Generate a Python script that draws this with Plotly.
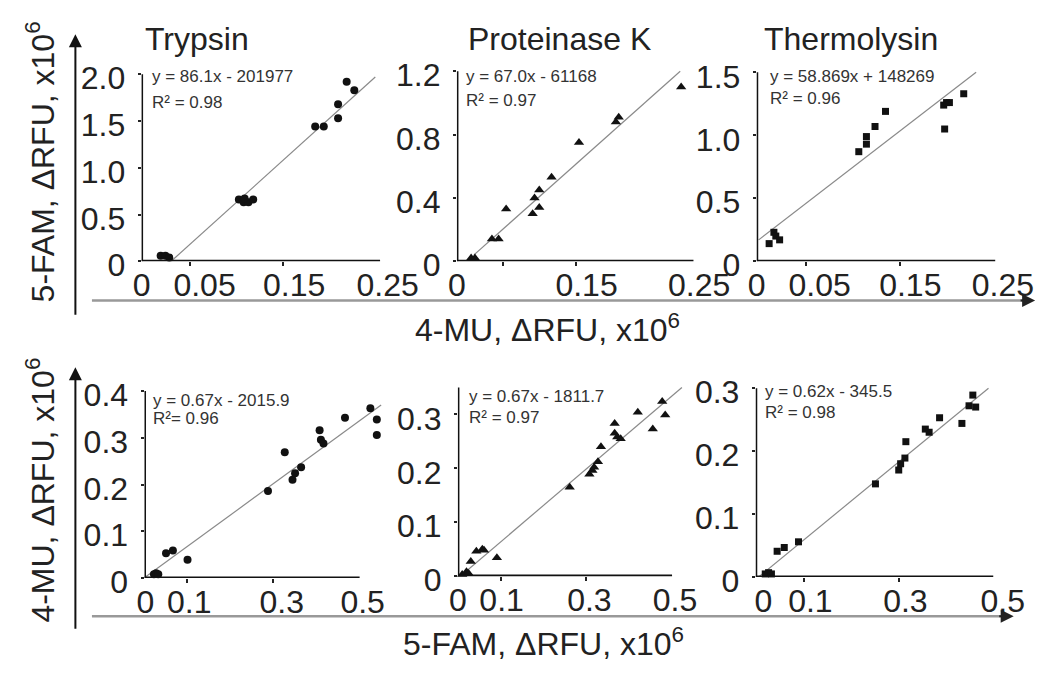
import plotly.graph_objects as go

W, H = 1050, 676
FONT = "Liberation Sans, Arial, sans-serif"

# ---------------- data (x10^6 RFU) ----------------
titles = ["Trypsin", "Proteinase K", "Thermolysin"]

# Row 1: x = 4-MU, y = 5-FAM
tryp_x = [0.020, 0.025, 0.029, 0.102, 0.107, 0.112, 0.117, 0.108, 0.182, 0.191, 0.206, 0.206, 0.215, 0.223]
tryp_y = [0.06, 0.06, 0.04, 0.66, 0.63, 0.63, 0.66, 0.67, 1.44, 1.44, 1.68, 1.53, 1.92, 1.83]
tryp_fit_x = [0.031, 0.245]
tryp_fit_y = [0.0, 1.97]

prot_x = [0.015, 0.019, 0.037, 0.044, 0.052, 0.080, 0.082, 0.087, 0.087, 0.100, 0.129, 0.168, 0.171, 0.237]
prot_y = [0.02, 0.02, 0.14, 0.14, 0.33, 0.30, 0.40, 0.45, 0.34, 0.53, 0.75, 0.88, 0.91, 1.10]
prot_fit_x = [0.018, 0.236]
prot_fit_y = [0.04, 1.20]

therm_x = [0.013, 0.018, 0.020, 0.024, 0.107, 0.115, 0.115, 0.124, 0.135, 0.196, 0.199, 0.202, 0.197, 0.217]
therm_y = [0.14, 0.23, 0.20, 0.17, 0.87, 0.93, 0.99, 1.07, 1.19, 1.24, 1.26, 1.26, 1.05, 1.33]
therm_fit_x = [0.002, 0.230]
therm_fit_y = [0.17, 1.50]

# Row 2: x = 5-FAM, y = 4-MU
tryp2_x = [0.022, 0.027, 0.032, 0.050, 0.066, 0.100, 0.287, 0.326, 0.344, 0.350, 0.364, 0.407, 0.410, 0.416, 0.466, 0.525, 0.540, 0.540]
tryp2_y = [0.008, 0.010, 0.008, 0.053, 0.059, 0.039, 0.186, 0.269, 0.210, 0.224, 0.237, 0.316, 0.296, 0.288, 0.343, 0.363, 0.339, 0.306]
tryp2_fit_x = [0.002, 0.550]
tryp2_fit_y = [0.002, 0.370]

prot2_x = [0.010, 0.020, 0.025, 0.030, 0.043, 0.057, 0.061, 0.091, 0.261, 0.307, 0.314, 0.318, 0.327, 0.334, 0.366, 0.366, 0.372, 0.380, 0.420, 0.455, 0.477, 0.484]
prot2_y = [0.003, 0.008, 0.005, 0.027, 0.046, 0.050, 0.048, 0.034, 0.165, 0.189, 0.196, 0.202, 0.212, 0.240, 0.283, 0.265, 0.258, 0.255, 0.304, 0.273, 0.324, 0.299]
prot2_fit_x = [0.009, 0.523]
prot2_fit_y = [0.002, 0.350]

therm2_x = [0.020, 0.027, 0.033, 0.045, 0.060, 0.090, 0.252, 0.301, 0.305, 0.314, 0.316, 0.357, 0.365, 0.387, 0.434, 0.449, 0.457, 0.463]
therm2_y = [0.005, 0.007, 0.005, 0.041, 0.047, 0.056, 0.148, 0.170, 0.180, 0.189, 0.215, 0.235, 0.230, 0.253, 0.244, 0.272, 0.289, 0.270]
therm2_fit_x = [0.006, 0.490]
therm2_fit_y = [0.000, 0.300]

equations = ["y = 86.1x - 201977", "y = 67.0x - 61168", "y = 58.869x + 148269",
             "y = 0.67x - 2015.9", "y = 0.67x - 1811.7", "y = 0.62x - 345.5"]
r2_labels = ["R² = 0.98", "R² = 0.97", "R² = 0.96", "R²= 0.96", "R² = 0.97", "R² = 0.98"]

# tick labels
xtick_text = [["0", "0.05", "0.15", "0.25"], ["0", "0.15", "0.25"], ["0", "0.05", "0.15", "0.25"],
              ["0", "0.1", "0.3", "0.5"], ["0", "0.1", "0.3", "0.5"], ["0", "0.1", "0.3", "0.5"]]
xtick_vals = [[0.0, 0.066, 0.160, 0.258], [0.0, 0.137, 0.256], [0.0, 0.066, 0.161, 0.258],
              [0.002, 0.104, 0.319, 0.507], [0.0, 0.102, 0.307, 0.507], [0.016, 0.115, 0.315, 0.520]]
xminor_vals = [[0.051, 0.148], [0.049, 0.126], [0.052, 0.150],
               [0.0995, 0.299], [0.10, 0.30], [0.102, 0.301]]
ytick_vals = [[0, 0.5, 1.0, 1.5, 2.0], [0, 0.4, 0.8, 1.2], [0, 0.5, 1.0, 1.5],
              [0, 0.1, 0.2, 0.3, 0.4], [0, 0.1, 0.2, 0.3], [0, 0.1, 0.2, 0.3]]
ytick_text = [["0", "0.5", "1.0", "1.5", "2.0"], ["0", "0.4", "0.8", "1.2"], ["0", "0.5", "1.0", "1.5"],
              ["0", "0.1", "0.2", "0.3", "0.4"], ["0", "0.1", "0.2", "0.3"], ["0", "0.1", "0.2", "0.3"]]

series = [(tryp_x, tryp_y, tryp_fit_x, tryp_fit_y),
          (prot_x, prot_y, prot_fit_x, prot_fit_y),
          (therm_x, therm_y, therm_fit_x, therm_fit_y),
          (tryp2_x, tryp2_y, tryp2_fit_x, tryp2_fit_y),
          (prot2_x, prot2_y, prot2_fit_x, prot2_fit_y),
          (therm2_x, therm2_y, therm2_fit_x, therm2_fit_y)]

# ---------------- geometry (pixels) ----------------
# x0px, px per x unit, y0px, px per y unit, x range max, y range max, x axis end, y axis end
geo = [(128, 980, 256, 98, 0.27, 2.05, 0.25, 2.0),
       (452, 972, 256, 166, 0.27, 1.25, 0.25, 1.2),
       (760, 980, 256, 132, 0.27, 1.55, 0.25, 1.5),
       (131, 442, 588, 490, 0.56, 0.42, 0.5, 0.4),
       (453, 440, 586, 565, 0.56, 0.36, 0.5, 0.35),
       (759, 488, 587, 660, 0.56, 0.31, 0.5, 0.3)]
symbols = ["circle", "triangle-up", "square"] * 2
msize = [8, 9, 7] * 2
eq_pos = [(137, 62, 90), (459, 62, 87), (772, 62, 85),
          (138, 402, 421), (462, 398, 420), (766, 393, 415)]

fig = go.Figure()
layout = dict(width=W, height=H, margin=dict(l=0, r=0, t=0, b=0),
              paper_bgcolor="white", plot_bgcolor="rgba(0,0,0,0)",
              showlegend=False, font=dict(family=FONT, color="#222"))
shapes, annotations = [], []

for i, ((sx, sy, fx, fy), g) in enumerate(zip(series, geo)):
    x0, ppx, y0, ppy, xr, yr, xend, yend = g
    xa = "x" if i == 0 else f"x{i+1}"
    ya = "y" if i == 0 else f"y{i+1}"
    fig.add_trace(go.Scatter(x=fx, y=fy, mode="lines", xaxis=xa, yaxis=ya,
                             line=dict(color="#8a8a8a", width=1.2), hoverinfo="skip"))
    fig.add_trace(go.Scatter(x=sx, y=sy, mode="markers", xaxis=xa, yaxis=ya, cliponaxis=False,
                             marker=dict(symbol=symbols[i], size=msize[i], color="#111",
                                         line=dict(width=0))))
    xd = [x0 / W, (x0 + xr * ppx) / W]
    yd = [1 - y0 / H, 1 - (y0 - yr * ppy) / H]
    key = "" if i == 0 else str(i + 1)
    layout["xaxis" + key] = dict(domain=xd, range=[0, xr], anchor=ya, showline=False,
                                 showgrid=False, zeroline=False, tickmode="array",
                                 tickvals=xtick_vals[i], ticktext=xtick_text[i], ticks="",
                                 tickfont=dict(size=32, color="#222"), ticklabelstandoff=2,
                                 minor=dict(tickmode="array", tickvals=xminor_vals[i],
                                            ticks="outside", ticklen=4, tickwidth=2,
                                            tickcolor="#222", showgrid=False))
    layout["yaxis" + key] = dict(domain=yd, range=[0, yr], anchor=xa, showline=False,
                                 showgrid=False, zeroline=False, tickmode="array",
                                 tickvals=ytick_vals[i], ticktext=ytick_text[i], ticks="outside",
                                 ticklen=3, tickwidth=2, tickcolor="#222",
                                 tickfont=dict(size=32, color="#222"), ticklabelshift=4,
                                 ticklabelstandoff=6)
    # axis lines
    shapes.append(dict(type="line", xref=xa, yref=ya, x0=0, x1=xend, y0=0, y1=0,
                       line=dict(color="#111", width=3)))
    shapes.append(dict(type="line", xref=xa, yref=ya, x0=0, x1=0, y0=0, y1=yend,
                       line=dict(color="#111", width=3)))
    ex, ey1, ey2 = eq_pos[i]
    annotations.append(dict(text=equations[i], xref="paper", yref="paper", x=ex / W, y=1 - ey1 / H,
                            xanchor="left", yanchor="middle", showarrow=False,
                            font=dict(size=17, color="#333")))
    annotations.append(dict(text=r2_labels[i], xref="paper", yref="paper", x=ex / W, y=1 - ey2 / H,
                            xanchor="left", yanchor="middle", showarrow=False,
                            font=dict(size=17, color="#333")))

# titles
for t, cx in zip(titles, [185, 557, 857]):
    annotations.append(dict(text=t, xref="paper", yref="paper", x=cx / W, y=1 - 23 / H,
                            xanchor="center", yanchor="middle", showarrow=False,
                            font=dict(size=32, color="#222")))

# big axis titles
annotations += [
    dict(text="4-MU, ΔRFU, x10<sup>6</sup>", xref="paper", yref="paper", x=545 / W, y=1 - 326 / H,
         xanchor="center", yanchor="middle", showarrow=False, font=dict(size=32, color="#222")),
    dict(text="5-FAM, ΔRFU, x10<sup>6</sup>", xref="paper", yref="paper", x=541 / W, y=1 - 655 / H,
         xanchor="center", yanchor="middle", showarrow=False, font=dict(size=32, color="#222")),
    dict(text="5-FAM, ΔRFU, x10<sup>6</sup>", xref="paper", yref="paper", x=24 / W, y=1 - 152 / H,
         xanchor="center", yanchor="middle", textangle=-90, showarrow=False,
         font=dict(size=32, color="#222")),
    dict(text="4-MU, ΔRFU, x10<sup>6</sup>", xref="paper", yref="paper", x=24 / W, y=1 - 496 / H,
         xanchor="center", yanchor="middle", textangle=-90, showarrow=False,
         font=dict(size=32, color="#222")),
]

# big arrows
annotations += [
    dict(text="", xref="paper", yref="paper", x=60 / W, y=1 - 18 / H, ax=0, ay=282,
         showarrow=True, arrowhead=2, arrowsize=1.3, arrowwidth=2, arrowcolor="#111"),
    dict(text="", xref="paper", yref="paper", x=60 / W, y=1 - 367 / H, ax=0, ay=263,
         showarrow=True, arrowhead=2, arrowsize=1.3, arrowwidth=2, arrowcolor="#111"),
    dict(text="", xref="paper", yref="paper", x=1046 / W, y=1 - 297 / H, ax=-16, ay=0,
         showarrow=True, arrowhead=2, arrowsize=1.3, arrowwidth=2, arrowcolor="#222"),
    dict(text="", xref="paper", yref="paper", x=1024 / W, y=1 - 628 / H, ax=-16, ay=0,
         showarrow=True, arrowhead=2, arrowsize=1.3, arrowwidth=2, arrowcolor="#222"),
]
shapes += [
    dict(type="line", xref="paper", yref="paper", x0=77 / W, x1=1036 / W, y0=1 - 297 / H, y1=1 - 297 / H,
         line=dict(color="#999", width=2.5)),
    dict(type="line", xref="paper", yref="paper", x0=77 / W, x1=1014 / W, y0=1 - 628 / H, y1=1 - 628 / H,
         line=dict(color="#999", width=2.5)),
]

layout["shapes"] = shapes
layout["annotations"] = annotations
fig.update_layout(**layout)
fig.write_html("out.html")
